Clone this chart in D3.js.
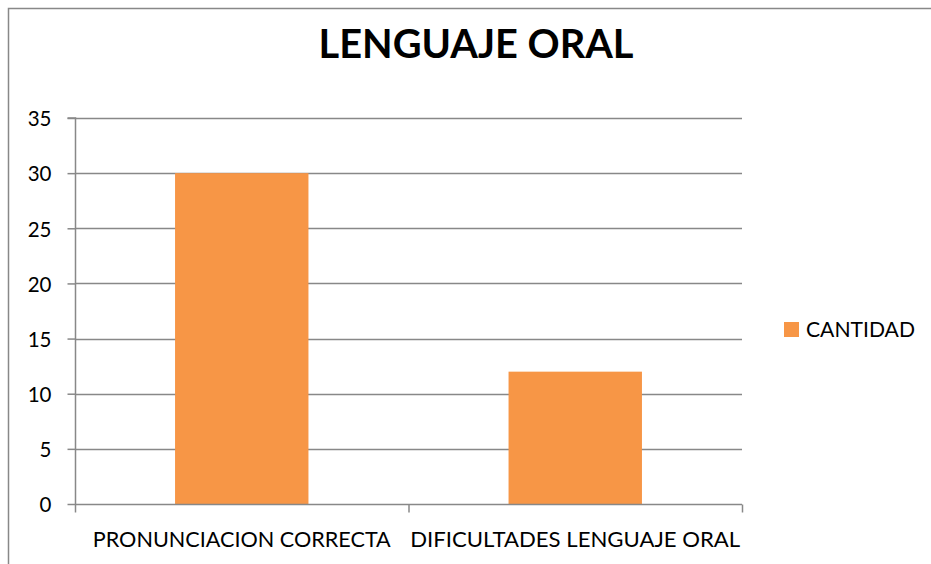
<!DOCTYPE html>
<html><head><meta charset="utf-8">
<script src="https://cdn.jsdelivr.net/npm/d3@7/dist/d3.min.js"></script>
<style>body{margin:0;background:#fff}svg{display:block}</style>
</head><body>
<script>
const categories = ["PRONUNCIACION CORRECTA", "DIFICULTADES LENGUAJE ORAL"];
const values = [30, 12];
const seriesName = "CANTIDAD";
const yTicks = [0, 5, 10, 15, 20, 25, 30, 35];
const title = "LENGUAJE ORAL";

const W = 931, H = 564;
const svg = d3.select("body").append("svg").attr("width", W).attr("height", H);
const font = "Lato, 'Open Sans', sans-serif";

// frame
svg.append("path").attr("d", "M8.5,564 V8.5 H931").attr("fill", "none").attr("stroke", "#888").attr("stroke-width", 1.5);

const m = {left: 75, right: 742, top: 118, bottom: 504};
const x = d3.scaleBand().domain(categories).range([m.left, m.right]).paddingInner(0.6).paddingOuter(0.3);
const xb = d3.scaleBand().domain(categories).range([m.left, m.right]);
const y = d3.scaleLinear().domain([0, 35]).range([m.bottom, m.top]);

// gridlines
svg.append("g").selectAll("line").data(yTicks.filter(d => d > 0)).join("line")
  .attr("x1", m.left).attr("x2", m.right)
  .attr("y1", d => Math.round(y(d)) + 0.5).attr("y2", d => Math.round(y(d)) + 0.5)
  .attr("stroke", "#888").attr("stroke-width", 1.3);

// bars
svg.append("g").selectAll("rect").data(values).join("rect")
  .attr("x", (d, i) => x(categories[i])).attr("width", x.bandwidth())
  .attr("y", d => y(d)).attr("height", d => y(0) - y(d))
  .attr("fill", "#F79646");

// y axis
const ya = svg.append("g").attr("transform", `translate(${m.left + 0.5},0)`)
  .call(d3.axisLeft(y).tickValues(yTicks).tickSize(8).tickPadding(16));
ya.select(".domain").attr("stroke", "#888").attr("stroke-width", 1.5).attr("d", `M-8,${m.top}H0V${m.bottom}`);
ya.selectAll(".tick line").attr("stroke", "#888").attr("stroke-width", 1.5);
ya.selectAll(".tick text").attr("font-family", font).attr("font-size", 20.5).attr("fill", "#000").attr("dy", "0.38em");

// x axis
const xa = svg.append("g").attr("transform", `translate(0,${m.bottom + 0.5})`);
xa.append("line").attr("x1", m.left).attr("x2", m.right).attr("stroke", "#888").attr("stroke-width", 1.5);
const bounds = [m.left, ...categories.map(c => xb(c) + xb.bandwidth())];
xa.selectAll(".xt").data(bounds).join("line").attr("class", "xt")
  .attr("x1", d => d + 0.5).attr("x2", d => d + 0.5).attr("y1", 0).attr("y2", 8)
  .attr("stroke", "#888").attr("stroke-width", 1.5);
const xl = [298, 330];
xa.selectAll("text").data(categories).join("text")
  .attr("x", d => xb(d) + xb.bandwidth() / 2).attr("y", 42)
  .attr("text-anchor", "middle").attr("font-family", font).attr("font-size", 20.5)
  .attr("textLength", (d, i) => xl[i]).attr("lengthAdjust", "spacingAndGlyphs")
  .text(d => d);

// title
svg.append("text").attr("x", 476).attr("y", 58).attr("text-anchor", "middle")
  .attr("font-family", font).attr("font-weight", "bold").attr("font-size", 40)
  .attr("textLength", 315).attr("lengthAdjust", "spacingAndGlyphs").text(title);

// legend
svg.append("rect").attr("x", 784).attr("y", 322).attr("width", 15).attr("height", 15).attr("fill", "#F79646");
svg.append("text").attr("x", 806).attr("y", 337).attr("font-family", font).attr("font-size", 20.5)
  .attr("textLength", 109).attr("lengthAdjust", "spacingAndGlyphs").text(seriesName);
</script>
</body></html>
